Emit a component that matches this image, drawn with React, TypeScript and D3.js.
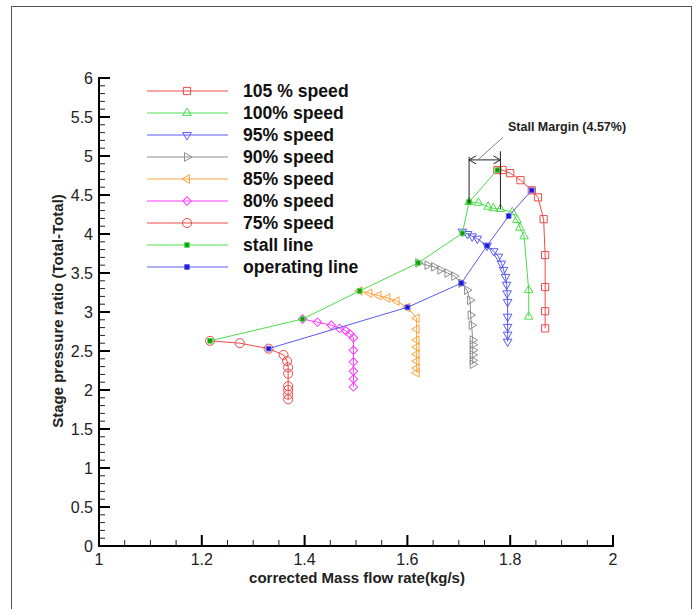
import React from 'react';
import * as d3 from 'd3';

// ---------- data ----------
const xTickValues = [1, 1.2, 1.4, 1.6, 1.8, 2];
const yTickValues = [0, 0.5, 1, 1.5, 2, 2.5, 3, 3.5, 4, 4.5, 5, 5.5, 6];

const s105X = [1.775, 1.785, 1.800, 1.820, 1.842, 1.854, 1.865, 1.868, 1.868, 1.868, 1.868];
const s105Y = [4.82, 4.82, 4.78, 4.69, 4.56, 4.47, 4.19, 3.73, 3.32, 3.01, 2.79];

const s100X = [1.720, 1.738, 1.757, 1.767, 1.781, 1.804, 1.813, 1.819, 1.827, 1.836, 1.836];
const s100Y = [4.41, 4.40, 4.35, 4.33, 4.32, 4.28, 4.18, 4.08, 3.97, 3.28, 2.94];

const s95X = [1.707, 1.717, 1.726, 1.736, 1.755, 1.768, 1.777, 1.783, 1.787, 1.791, 1.793, 1.794, 1.795, 1.795, 1.795, 1.795, 1.795];
const s95Y = [4.03, 4.00, 3.97, 3.94, 3.85, 3.78, 3.71, 3.62, 3.54, 3.45, 3.35, 3.24, 3.13, 2.94, 2.81, 2.71, 2.62];

const s90X = [1.621, 1.639, 1.652, 1.664, 1.678, 1.691, 1.705, 1.716, 1.722, 1.723, 1.725, 1.727, 1.727, 1.727, 1.727, 1.727, 1.727];
const s90Y = [3.63, 3.60, 3.58, 3.54, 3.50, 3.46, 3.37, 3.28, 3.15, 2.96, 2.83, 2.64, 2.58, 2.51, 2.45, 2.38, 2.33];

const s85X = [1.507, 1.526, 1.544, 1.561, 1.579, 1.600, 1.618, 1.618, 1.618, 1.618, 1.618, 1.618, 1.618, 1.618];
const s85Y = [3.27, 3.24, 3.21, 3.18, 3.14, 3.06, 2.92, 2.78, 2.64, 2.55, 2.46, 2.37, 2.28, 2.22];

const s80X = [1.396, 1.425, 1.452, 1.468, 1.480, 1.488, 1.495, 1.495, 1.495, 1.495, 1.495, 1.495];
const s80Y = [2.91, 2.87, 2.83, 2.79, 2.76, 2.72, 2.67, 2.51, 2.36, 2.24, 2.14, 2.04];

const s75X = [1.216, 1.274, 1.330, 1.359, 1.366, 1.368, 1.368, 1.368, 1.368, 1.368, 1.368];
const s75Y = [2.63, 2.60, 2.53, 2.45, 2.37, 2.29, 2.21, 2.05, 2.00, 1.94, 1.88];

const stallX = [1.216, 1.396, 1.507, 1.621, 1.707, 1.720, 1.775];
const stallY = [2.63, 2.91, 3.27, 3.63, 4.01, 4.41, 4.82];

const operX = [1.330, 1.600, 1.705, 1.755, 1.797, 1.842];
const operY = [2.53, 3.06, 3.37, 3.85, 4.23, 4.56];

const legendLabels = ['105 % speed', '100% speed', '95% speed', '90% speed', '85% speed', '80% speed', '75% speed', 'stall line', 'operating line'];

const stallMarginLabel = 'Stall Margin (4.57%)';
const marginArrowY = 4.95;
const marginRightTop = 5.06;
const marginLeftTop = 4.99;
const leaderEnd = { x: 1.786, y: 5.24 };

// ---------- layout ----------
const W = 699, H = 609;
const x = d3.scaleLinear().domain([1, 2]).range([99, 613]);
const y = d3.scaleLinear().domain([0, 6]).range([546, 78]);

type Series = { label: string; xs: number[]; ys: number[]; color: string; marker: string; fill?: string; };

const series: Series[] = [
  { label: legendLabels[0], xs: s105X, ys: s105Y, color: '#ef4a4a', marker: 'square' },
  { label: legendLabels[1], xs: s100X, ys: s100Y, color: '#4fdc4f', marker: 'triUp' },
  { label: legendLabels[2], xs: s95X, ys: s95Y, color: '#5a5af2', marker: 'triDown' },
  { label: legendLabels[3], xs: s90X, ys: s90Y, color: '#8e8e8e', marker: 'triRight' },
  { label: legendLabels[4], xs: s85X, ys: s85Y, color: '#ffa23c', marker: 'triLeft' },
  { label: legendLabels[5], xs: s80X, ys: s80Y, color: '#ff3cff', marker: 'diamond' },
  { label: legendLabels[6], xs: s75X, ys: s75Y, color: '#ef4a4a', marker: 'circle' },
  { label: legendLabels[7], xs: stallX, ys: stallY, color: '#4fdc4f', marker: 'fsquare', fill: '#119911' },
  { label: legendLabels[8], xs: operX, ys: operY, color: '#5a5af2', marker: 'fsquare', fill: '#1a1acc' },
];

function markerPath(kind: string): { d: string; rot: number } {
  switch (kind) {
    case 'square': return { d: d3.symbol(d3.symbolSquare, 52)()!, rot: 0 };
    case 'triUp': return { d: d3.symbol(d3.symbolTriangle, 32)()!, rot: 0 };
    case 'triDown': return { d: d3.symbol(d3.symbolTriangle, 32)()!, rot: 180 };
    case 'triRight': return { d: d3.symbol(d3.symbolTriangle, 32)()!, rot: 90 };
    case 'triLeft': return { d: d3.symbol(d3.symbolTriangle, 32)()!, rot: -90 };
    case 'diamond': return { d: d3.symbol(d3.symbolSquare, 36)()!, rot: 45 };
    case 'circle': return { d: d3.symbol(d3.symbolCircle, 64)()!, rot: 0 };
    default: return { d: d3.symbol(d3.symbolSquare, 22)()!, rot: 0 };
  }
}

function Marker({ cx, cy, s }: { cx: number; cy: number; s: Series }) {
  const m = markerPath(s.marker);
  return (
    <path d={m.d} transform={`translate(${cx},${cy}) rotate(${m.rot})`}
      fill={s.fill ?? 'none'} stroke={s.color} strokeWidth={1} />
  );
}

export default function App() {
  const line = d3.line<[number, number]>().x(d => x(d[0])).y(d => y(d[1]));
  const font = 'Arial, "Liberation Sans", sans-serif';

  const xMinor = d3.range(1, 2.0001, 0.05);
  const yMinor = d3.range(0, 6.0001, 0.1);

  // stall margin geometry from data
  const leftX = s100X[0];
  const leftBottom = s100Y[0];
  const rightX = s100X[4];
  const rightBottom = s100Y[4];
  const ay = y(marginArrowY);
  const lx = x(leftX), rx = x(rightX);

  const legendTop = 91, legendStep = 22;

  return (
    <svg width={W} height={H} style={{ position: 'absolute', left: 0, top: 0, background: '#fff' }}
      fontFamily={font}>
      <rect x={11.5} y={6.5} width={680} height={620} fill="#fff" stroke="#555" strokeWidth={1} />

      {/* minor ticks */}
      {xMinor.map((v, i) => (
        <line key={'xm' + i} x1={x(v)} x2={x(v)} y1={y(0)} y2={y(0) - 6} stroke="#222" strokeWidth={1} />
      ))}
      {yMinor.map((v, i) => (
        <line key={'ym' + i} x1={x(1)} x2={x(1) + 6} y1={y(v)} y2={y(v)} stroke="#222" strokeWidth={1} />
      ))}
      {/* major ticks */}
      {xTickValues.map(v => (
        <g key={'xt' + v}>
          <line x1={x(v)} x2={x(v)} y1={y(0)} y2={y(0) - 11} stroke="#000" strokeWidth={2} />
          <text x={x(v)} y={y(0) + 19} textAnchor="middle" fontSize={16} fill="#222">{v}</text>
        </g>
      ))}
      {yTickValues.map(v => (
        <g key={'yt' + v}>
          <line x1={x(1)} x2={x(1) + 11} y1={y(v)} y2={y(v)} stroke="#000" strokeWidth={2} />
          <text x={x(1) - 6} y={y(v) + 5.5} textAnchor="end" fontSize={16} fill="#222">{v}</text>
        </g>
      ))}
      {/* axis lines */}
      <line x1={x(1)} x2={x(1)} y1={y(0) + 1} y2={y(6) - 1} stroke="#000" strokeWidth={2} />
      <line x1={x(1) - 1} x2={x(2) + 1} y1={y(0)} y2={y(0)} stroke="#000" strokeWidth={2} />

      {/* axis labels */}
      <text x={(x(1) + x(2)) / 2 + 1} y={583} textAnchor="middle" fontSize={15} fontWeight="bold" fill="#222">
        corrected Mass flow rate(kg/s)
      </text>
      <text transform={`translate(63,${311}) rotate(-90)`} textAnchor="middle" fontSize={15} fontWeight="bold" fill="#222">
        Stage pressure ratio (Total-Total)
      </text>

      {/* series */}
      {series.map((s, si) => {
        const pts = s.xs.map((v, i) => [v, s.ys[i]] as [number, number]);
        return (
          <g key={'s' + si}>
            <path d={line(pts)!} fill="none" stroke={s.color} strokeWidth={1} />
            {pts.map((p, i) => <Marker key={i} cx={x(p[0])} cy={y(p[1])} s={s} />)}
          </g>
        );
      })}

      {/* stall margin annotation */}
      <g stroke="#222" strokeWidth={1} fill="none">
        <line x1={lx} x2={lx} y1={y(marginLeftTop)} y2={y(leftBottom)} />
        <line x1={rx} x2={rx} y1={y(marginRightTop)} y2={y(rightBottom)} />
        <line x1={lx} x2={rx} y1={ay} y2={ay} />
        <path d={`M${lx + 7},${ay - 4} L${lx},${ay} L${lx + 7},${ay + 4}`} />
        <path d={`M${rx - 7},${ay - 4} L${rx},${ay} L${rx - 7},${ay + 4}`} />
      </g>
      <line x1={(lx + rx) / 2 - 7} y1={ay} x2={x(leaderEnd.x)} y2={y(leaderEnd.y)} stroke="#888" strokeWidth={1} />
      <text x={508} y={131} fontSize={12.5} fontWeight="bold" fill="#222">{stallMarginLabel}</text>

      {/* legend */}
      {series.map((s, i) => {
        const ly = legendTop + i * legendStep;
        return (
          <g key={'lg' + i}>
            <line x1={147} x2={228} y1={ly} y2={ly} stroke={s.color} strokeWidth={1} />
            <Marker cx={187} cy={ly} s={s} />
            <text x={243} y={ly + 6} fontSize={17.6} fontWeight="bold" fill="#111">{s.label}</text>
          </g>
        );
      })}
    </svg>
  );
}
